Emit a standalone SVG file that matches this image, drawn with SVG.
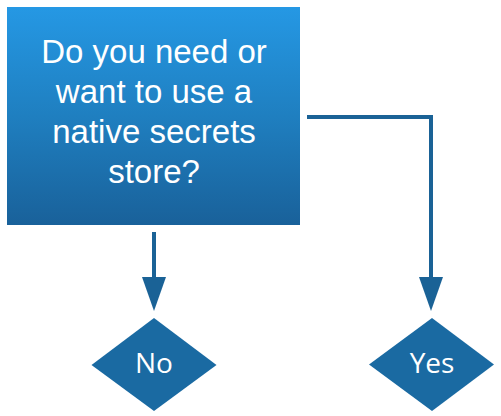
<svg xmlns="http://www.w3.org/2000/svg" width="501" height="416" viewBox="0 0 501 416">
  <style>
    .conn { fill: none; stroke: #1a6296; stroke-width: 4; }
    .boxtext { font-family: "Liberation Sans", Arial, sans-serif; font-size: 33px; fill: #ffffff; text-anchor: middle; }
    .dia { fill: #1a6aa2; }
    .diatext { font-family: "Open Sans", "Noto Sans", sans-serif; font-size: 28px; fill: #ffffff; text-anchor: middle; }
  </style>
  <defs>
    <linearGradient id="boxGrad" x1="0" y1="0" x2="0" y2="1">
      <stop offset="0" stop-color="#2598e4"/>
      <stop offset="0.5" stop-color="#1f7fc0"/>
      <stop offset="1" stop-color="#19619a"/>
    </linearGradient>
    <marker id="arrow" markerUnits="userSpaceOnUse" markerWidth="34" markerHeight="24" refX="0" refY="12" orient="auto" overflow="visible">
      <path d="M0,0 L34,12 L0,24 Z" fill="#1a6296"/>
    </marker>
  </defs>
  <rect width="501" height="416" fill="#ffffff"/>
  <g id="question">
    <rect x="7" y="7" width="293" height="218" fill="url(#boxGrad)"/>
    <text class="boxtext" x="154" y="63">Do you need or</text>
    <text class="boxtext" x="154" y="103">want to use a</text>
    <text class="boxtext" x="154" y="143">native secrets</text>
    <text class="boxtext" x="154" y="183">store?</text>
  </g>
  <g id="connectors">
    <path class="conn" d="M154,232 L154,277" marker-end="url(#arrow)"/>
    <path class="conn" d="M307,117 L431,117 L431,277" marker-end="url(#arrow)"/>
  </g>
  <g id="no">
    <polygon class="dia" points="154,318 216.5,365 154,411 91.5,365"/>
    <text class="diatext" x="154" y="373">No</text>
  </g>
  <g id="yes">
    <polygon class="dia" points="432,318 494,364.5 432,411 369,364.5"/>
    <text class="diatext" x="432" y="373">Yes</text>
  </g>
</svg>
